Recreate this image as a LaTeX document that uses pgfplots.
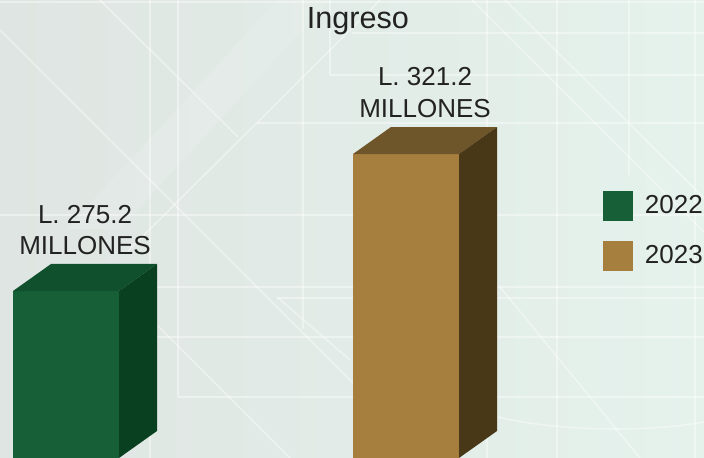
\documentclass[border=0pt]{standalone}
\usepackage{pgfplots}
\pgfplotsset{compat=1.18}
\usepackage{fontspec}
\setmainfont{Liberation Sans}
\definecolor{gfront}{RGB}{22,95,55}
\definecolor{gtop}{RGB}{16,80,45}
\definecolor{gside}{RGB}{9,64,32}
\definecolor{ofront}{RGB}{166,127,62}
\definecolor{otop}{RGB}{110,85,42}
\definecolor{oside}{RGB}{72,56,24}
\definecolor{bgl}{RGB}{223,229,226}
\definecolor{bgr}{RGB}{229,242,236}
\definecolor{txt}{RGB}{34,34,34}
\begin{document}
\begin{tikzpicture}
\useasboundingbox (0,0) rectangle (352pt,229pt);
\shade[left color=bgl, right color=bgr] (0,0) rectangle (352pt,229pt);
\begin{scope}[x=0.5pt,y=-0.5pt,shift={(0pt,229pt)}]
\clip (0,0) rectangle (704,458);
\fill[white, opacity=0.12] (67,229) -- (277,0) -- (330,0) -- (120,229) -- cycle;
\begin{scope}[draw=white, opacity=0.4, line width=0.8pt]
\draw (0,30) -- (460,490);
\draw (100,0) -- (238,137);
\draw (128,251) -- (333,47) -- (380,0);
\draw (158,326) -- (290,458);
\draw (277,297) -- (350,360);
\draw (472,0) -- (704,232);
\draw (505,0) -- (704,198);
\draw (500,287) -- (640,458);
\draw (498,417) .. controls (560,432) and (650,432) .. (704,422);
\draw (150,0) -- (150,458);
\draw (178,0) -- (178,397);
\draw (303,0) -- (303,329);
\draw (330,0) -- (330,75);
\draw (487,0) -- (487,458);
\draw (557,0) -- (557,458);
\draw (629,0) -- (629,175);
\draw (695,0) -- (695,458);
\draw (0,2) -- (704,2);
\draw (352,33) -- (704,33);
\draw (330,75) -- (704,75);
\draw (257,123) -- (704,123);
\draw (0,215) -- (704,215);
\draw (150,287) -- (704,287);
\draw (277,298) -- (704,298);
\draw (150,337) -- (704,337);
\draw (178,397) -- (704,397);
\end{scope}
\end{scope}
\begin{axis}[
  at={(0pt,0pt)}, anchor=south west,
  scale only axis, width=352pt, height=229pt,
  xmin=-0.19412, xmax=1.87647,
  ymin=219.13, ymax=372.92,
  axis line style={draw=none},
  xtick=\empty, ytick=\empty,
  clip=true,
  legend image code/.code={\fill[#1] (0pt,-7.5pt) rectangle (15pt,7.5pt);},
  legend style={at={(rel axis cs:0.8565,0.5830)}, anchor=north west,
    draw=none, fill=none, inner sep=0pt, outer sep=0pt,
    font=\fontsize{13}{15}\selectfont, text=txt,
    row sep=10pt, cells={anchor=west},
    nodes={inner sep=0pt},
    /tikz/every odd column/.append style={column sep=6pt}},
]
% 2022
\addplot[ybar, bar width=53pt, bar shift=0pt, fill=gfront, draw=none] coordinates {(0,275.2)};
\addlegendentry{2022}
\addplot[sharp plot, fill=gtop, draw=none, forget plot] coordinates {(-0.15588,275.2) (0.15588,275.2) (0.26765,284.27) (-0.04412,284.27)} -- cycle;
\addplot[sharp plot, fill=gside, draw=none, forget plot] coordinates {(0.15588,275.2) (0.26765,284.27) (0.26765,228.2) (0.15588,219.13)} -- cycle;
% 2023
\addplot[ybar, bar width=53pt, bar shift=0pt, fill=ofront, draw=none] coordinates {(1,321.2)};
\addlegendentry{2023}
\addplot[sharp plot, fill=otop, draw=none, forget plot] coordinates {(0.84412,321.2) (1.15588,321.2) (1.26765,330.27) (0.95588,330.27)} -- cycle;
\addplot[sharp plot, fill=oside, draw=none, forget plot] coordinates {(1.15588,321.2) (1.26765,330.27) (1.26765,228.2) (1.15588,219.13)} -- cycle;
% labels
\node[anchor=base, text=txt, font=\fontsize{13}{15}\selectfont] at (axis cs:0.0559,298.0) {L. 275.2};
\node[anchor=base, text=txt, font=\fontsize{13}{15}\selectfont] at (axis cs:0.0559,287.6) {MILLONES};
\node[anchor=base, text=txt, font=\fontsize{13}{15}\selectfont] at (axis cs:1.0559,344.2) {L. 321.2};
\node[anchor=base, text=txt, font=\fontsize{13}{15}\selectfont] at (axis cs:1.0559,333.6) {MILLONES};
\node[anchor=base, text=txt, font=\fontsize{15.3}{18}\selectfont] at (rel axis cs:0.5085,0.9367) {Ingreso};
\end{axis}
\end{tikzpicture}
\end{document}
